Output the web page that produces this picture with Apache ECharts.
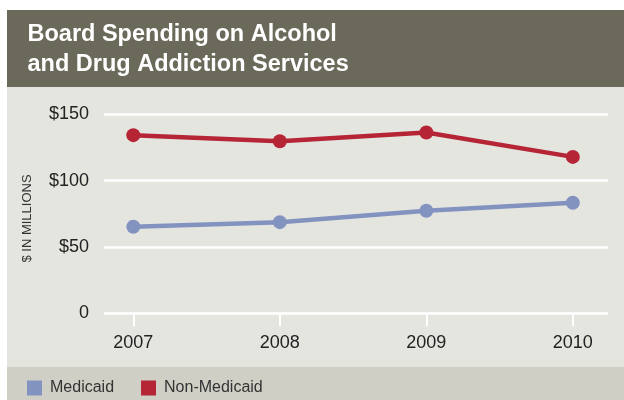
<!DOCTYPE html>
<html><head><meta charset="utf-8">
<script src="https://cdn.jsdelivr.net/npm/echarts@6/dist/echarts.min.js"></script>
<style>html,body{margin:0;padding:0;background:#fff}#c{width:624px;height:400px}</style>
</head><body><div id="c"></div>
<script>
const years = [2007, 2008, 2009, 2010];
const yTicks = ['0', '$50', '$100', '$150'];
const medicaid = [65.2, 68.7, 77.3, 83.3];
const nonMedicaid = [134.3, 129.7, 136.3, 117.9];
const titleLines = ['Board Spending on Alcohol', 'and Drug Addiction Services'];

const chart = echarts.init(document.getElementById('c'), null, {renderer: 'canvas'});
const font = 'Liberation Sans, Arial, Helvetica, sans-serif';
chart.setOption({
  animation: false,
  textStyle: {fontFamily: font},
  graphic: [
    {type: 'rect', z: -10, shape: {x: 7, y: 10, width: 617, height: 77}, style: {fill: '#6b695a'}},
    {type: 'rect', z: -10, shape: {x: 7, y: 87, width: 617, height: 280}, style: {fill: '#e5e5e0'}},
    {type: 'rect', z: -10, shape: {x: 7, y: 367, width: 617, height: 33}, style: {fill: '#d0cfc6'}},
    {type: 'text', x: 27.5, y: 35,
      style: {text: titleLines[0], fill: '#fff', font: 'bold 23.5px ' + font, align: 'left', verticalAlign: 'middle'}},
    {type: 'text', x: 27.5, y: 64.5,
      style: {text: titleLines[1], fill: '#fff', font: 'bold 23.5px ' + font, align: 'left', verticalAlign: 'middle'}},
    {type: 'text', x: 27.5, y: 218.5, rotation: Math.PI / 2,
      style: {text: '$ IN MILLIONS', fill: '#333', font: '13px ' + font, align: 'center', verticalAlign: 'middle'}}
  ],
  legend: {
    left: 27, top: 380, padding: 0, icon: 'rect', itemWidth: 15, itemHeight: 15, itemGap: 27,
    textStyle: {color: '#333', fontSize: 16, fontFamily: font, padding: [0, 0, 0, 3]},
    data: ['Medicaid', 'Non-Medicaid']
  },
  grid: {left: 104, right: 16, top: 114.3, bottom: 86.7},
  xAxis: {
    type: 'value', min: 2006.8, max: 2010.24,
    splitLine: {show: false},
    axisLine: {show: false},
    axisTick: {show: true, customValues: years, length: 13, lineStyle: {color: '#fff', width: 2}},
    axisLabel: {customValues: years, color: '#222', fontSize: 18, margin: 21, formatter: v => String(v)}
  },
  yAxis: {
    type: 'value', min: 0, max: 150, interval: 50,
    axisLine: {show: false}, axisTick: {show: false},
    splitLine: {lineStyle: {color: '#fff', width: 2.5}},
    axisLabel: {color: '#222', fontSize: 18, margin: 15, formatter: v => yTicks[v / 50]}
  },
  series: [
    {name: 'Medicaid', type: 'line', data: years.map((y, i) => [y, medicaid[i]]),
      color: '#8393c0', symbol: 'circle', symbolSize: 14, lineStyle: {width: 4.5}},
    {name: 'Non-Medicaid', type: 'line', data: years.map((y, i) => [y, nonMedicaid[i]]),
      color: '#b52536', symbol: 'circle', symbolSize: 14, lineStyle: {width: 4.5}}
  ]
});
</script></body></html>
